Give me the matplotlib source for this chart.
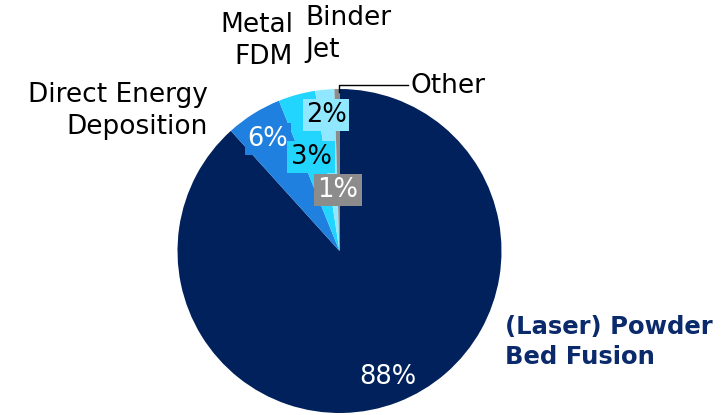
import matplotlib
matplotlib.use("Agg")
from matplotlib import pyplot as plt

plt.rcParams['font.family'] = ['DejaVu Sans']

# data (share of metal AM market)
categories = ["(Laser) Powder\nBed Fusion", "Direct Energy\nDeposition", "Metal\nFDM", "Binder\nJet", "Other"]
shares = [88.3, 5.6, 3.7, 1.9, 0.5]
pct_labels = ["88%", "6%", "3%", "2%", "1%"]

colors = ["#00215B", "#1F80E0", "#22D5FF", "#8FE8FF", "#8C8C8C"]
pct_colors = ["white", "white", "black", "black", "white"]

W, H = 726, 415
FS = 19
LS = 1.28


def py(y):
    # image pixel row -> data y
    return H - y


fig = plt.figure(figsize=(7.26, 4.15), dpi=100)
ax = fig.add_axes([0, 0, 1, 1])

ax.pie(shares, colors=colors, startangle=90, counterclock=False,
       center=(339.5, py(251)), radius=162,
       wedgeprops=dict(linewidth=0))
ax.set_xlim(0, W)
ax.set_ylim(0, H)
ax.set_aspect('equal')
ax.axis('off')

# percentage labels
pct_pos = [(388, 377), (268, 139), (311, 157), (326, 115), (338, 190)]
for i, (x, y) in enumerate(pct_pos):
    box = None if i == 0 else dict(boxstyle="square,pad=0.12", fc=colors[i], ec="none")
    ax.text(x, py(y), pct_labels[i], color=pct_colors[i], fontsize=18.5,
            ha="center", va="center", bbox=box)

# category labels
ax.text(505, py(342), categories[0], color="#0B2A6B", fontsize=17.5, fontweight="bold",
        ha="left", va="center", linespacing=1.3)
ax.text(208, py(111), categories[1], color="black", fontsize=FS,
        ha="right", va="center", linespacing=LS)
ax.text(293, py(41), categories[2], color="black", fontsize=FS,
        ha="right", va="center", linespacing=LS)
ax.text(305, py(34), categories[3], color="black", fontsize=FS,
        ha="left", va="center", linespacing=LS)

# leader line for "Other"
ax.plot([339.3, 339.3, 408], [py(92), py(85), py(85)], color="black", lw=1)
ax.text(410, py(86), categories[4], color="black", fontsize=FS,
        ha="left", va="center")

fig.savefig("out.png", dpi=100)
